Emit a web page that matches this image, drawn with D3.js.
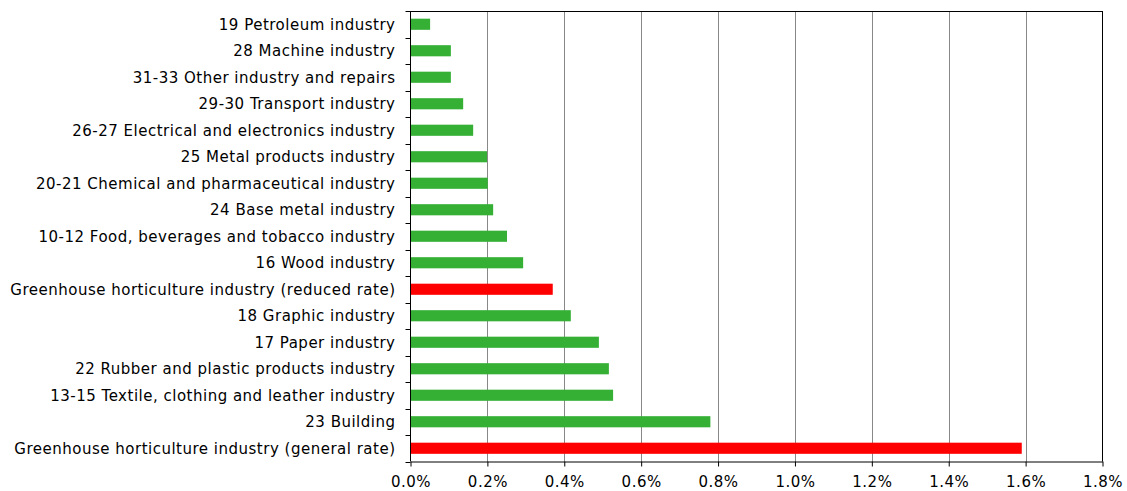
<!DOCTYPE html>
<html><head><meta charset="utf-8">
<script src="https://cdn.jsdelivr.net/npm/d3@7"></script>
<style>body{margin:0;background:#fff}svg{display:block}text{font-family:"DejaVu Sans",Verdana,sans-serif;}</style>
</head><body><div id="chart"></div>
<script>
const categories = [
  "19 Petroleum industry",
  "28 Machine industry",
  "31-33 Other industry and repairs",
  "29-30 Transport industry",
  "26-27 Electrical and electronics industry",
  "25 Metal products industry",
  "20-21 Chemical and pharmaceutical industry",
  "24 Base metal industry",
  "10-12 Food, beverages and tobacco industry",
  "16 Wood industry",
  "Greenhouse horticulture industry (reduced rate)",
  "18 Graphic industry",
  "17 Paper industry",
  "22 Rubber and plastic products industry",
  "13-15 Textile, clothing and leather industry",
  "23 Building",
  "Greenhouse horticulture industry (general rate)"
];
const values = [0.051, 0.105, 0.105, 0.137, 0.163, 0.199, 0.201, 0.215, 0.251, 0.293, 0.370, 0.417, 0.490, 0.516, 0.527, 0.780, 1.590];
const highlighted = [false,false,false,false,false,false,false,false,false,false,true,false,false,false,false,false,true];
const xTicks = [0,0.2,0.4,0.6,0.8,1.0,1.2,1.4,1.6,1.8];

const W = 1127, H = 491;
const m = {left: 410.5, right: 24.5, top: 11, bottom: 29.5};
const svg = d3.select("#chart").append("svg").attr("width", W).attr("height", H);
const x = d3.scaleLinear().domain([0, 1.8]).range([m.left, W - m.right]);
const y = d3.scaleBand().domain(categories).range([m.top, H - m.bottom]).paddingInner(0.58).paddingOuter(0.29);
const yb = d3.scaleBand().domain(categories).range([m.top, H - m.bottom]);

// gridlines
svg.append("g").selectAll("line").data(xTicks.slice(1, -1)).join("line")
  .attr("x1", d => Math.round(x(d)) + 0.5).attr("x2", d => Math.round(x(d)) + 0.5)
  .attr("y1", m.top).attr("y2", H - m.bottom)
  .attr("stroke", "#888").attr("stroke-width", 1);

// bars
svg.append("g").selectAll("rect").data(categories).join("rect")
  .attr("x", x(0)).attr("y", (d) => y(d))
  .attr("width", (d, i) => x(values[i]) - x(0))
  .attr("height", y.bandwidth())
  .attr("fill", (d, i) => highlighted[i] ? "#ff0000" : "#35b035");

// frame top/right
svg.append("line").attr("x1", m.left).attr("x2", W - m.right).attr("y1", m.top + 0.5).attr("y2", m.top + 0.5).attr("stroke", "#000");
svg.append("line").attr("x1", W - m.right).attr("x2", W - m.right).attr("y1", m.top).attr("y2", H - m.bottom).attr("stroke", "#000");

// x axis
const xAxis = svg.append("g").attr("transform", `translate(0,${H - m.bottom})`)
  .call(d3.axisBottom(x).tickValues(xTicks).tickFormat(d => d.toFixed(1) + "%").tickSizeOuter(0).tickSizeInner(5).tickPadding(10));
xAxis.select(".domain").attr("stroke", "#000");
xAxis.selectAll("text").attr("font-size", 15).attr("letter-spacing", "0.5px").attr("fill", "#000").attr("font-family", '"DejaVu Sans",Verdana,sans-serif');

// y axis: ticks at band boundaries
const yg = svg.append("g").attr("transform", `translate(${m.left},0)`);
yg.append("line").attr("x1", 0).attr("x2", 0).attr("y1", m.top).attr("y2", H - m.bottom).attr("stroke", "#000");
const bounds = categories.map(c => yb(c)).concat([H - m.bottom]);
yg.selectAll("line.tk").data(bounds).join("line").attr("class", "tk")
  .attr("x1", -5).attr("x2", 0).attr("y1", d => Math.round(d) + 0.5).attr("y2", d => Math.round(d) + 0.5).attr("stroke", "#000");
yg.selectAll("text").data(categories).join("text")
  .attr("x", -15).attr("y", d => yb(d) + yb.bandwidth() / 2)
  .attr("dy", "0.35em").attr("text-anchor", "end").attr("font-size", 15).attr("letter-spacing", "0.5px").attr("fill", "#000")
  .text(d => d);
</script></body></html>
